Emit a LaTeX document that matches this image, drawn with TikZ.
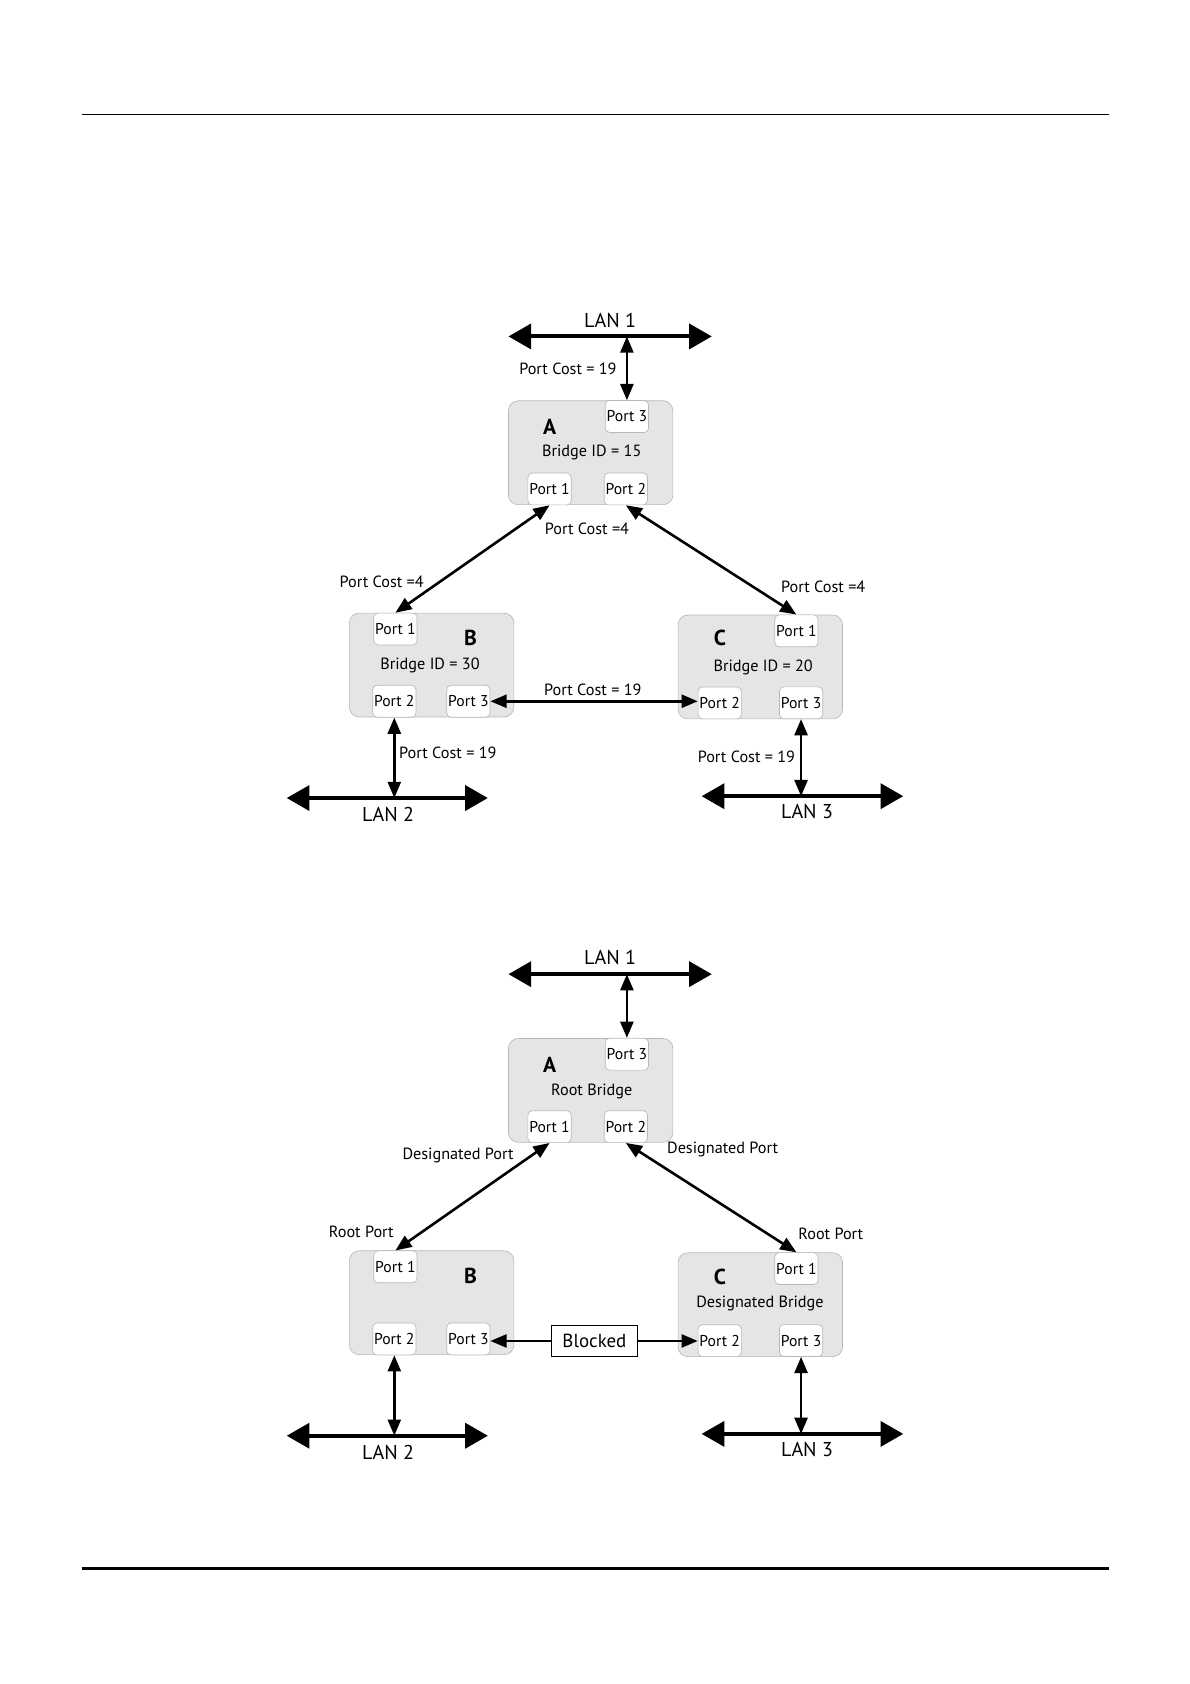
\documentclass[tikz,border=0pt]{standalone}
\usepackage{fontspec}
\setmainfont{PT Sans}
\usetikzlibrary{arrows.meta}
\begin{document}
\begin{tikzpicture}[x=1pt,y=-1pt,
  bridge/.style={draw=black!28, fill=black!10, rounded corners=9pt, line width=0.6pt, minimum width=152pt, minimum height=96pt, inner sep=0pt},
  portbox/.style={draw=black!28, fill=white, rounded corners=4pt, line width=0.6pt, minimum width=40pt, minimum height=29.5pt, inner sep=0pt, font=\fontsize{14.5}{16}\selectfont},
  lbl/.style={inner sep=0pt, font=\fontsize{15}{17}\selectfont},
  lanlbl/.style={inner sep=0pt, font=\fontsize{18.5}{20}\selectfont},
  letter/.style={inner sep=0pt, font=\fontsize{20}{22}\selectfont\bfseries},
  lan/.style={line width=3.7pt, {Triangle[length=21pt,width=23pt]}-{Triangle[length=21pt,width=23pt]}},
  conn/.style={line width=2.4pt, {Triangle[length=15pt,width=12pt]}-{Triangle[length=15pt,width=12pt]}},
  conne/.style={line width=2.4pt, -{Triangle[length=15pt,width=12pt]}},
  blk/.style={draw=black, line width=0.8pt, minimum width=79pt, minimum height=28.5pt, inner sep=0pt, font=\fontsize{17.5}{19}\selectfont}
]
\useasboundingbox (0,0) rectangle (1100,1556.7);
% page rules
\coordinate (r1a) at (75.8,105.7); \coordinate (r1b) at (1025,105.7);
\coordinate (r2a) at (75.8,1449.8); \coordinate (r2b) at (1025,1449.8);
\draw[line width=1.2pt] (r1a) -- (r1b);
\draw[line width=2.5pt] (r2a) -- (r2b);

% ================= Diagram 1 =================
\node[bridge] (A) at (546,418.5) {};
\node[portbox] (A3) at (579.5,385) {Port 3};
\node[portbox] (A1) at (508,452) {Port 1};
\node[portbox] (A2) at (578.5,452) {Port 2};
\node[letter] (Al) at (508,395) {A};
\node[lbl] (Aid) at (547,418) {Bridge ID = 15};

\node[bridge] (B) at (399,614.75) {};
\node[portbox] (B1) at (365.5,581.5) {Port 1};
\node[portbox] (B2) at (364.5,648.25) {Port 2};
\node[portbox] (B3) at (433,648.25) {Port 3};
\node[letter] (Bl) at (435,590) {B};
\node[lbl] (Bid) at (397.5,614.7) {Bridge ID = 30};

\node[bridge] (C) at (702.85,616.55) {};
\node[portbox] (C1) at (736.2,583.15) {Port 1};
\node[portbox] (C2) at (665.3,649.8) {Port 2};
\node[portbox] (C3) at (740.5,649.7) {Port 3};
\node[letter] (Cl) at (665.6,589.7) {C};
\node[lbl] (Cid) at (705.5,617.2) {Bridge ID = 20};

\coordinate (L1w) at (470,311); \coordinate (L1e) at (658,311);
\coordinate (L2w) at (265,737.7); \coordinate (L2e) at (451,737.7);
\coordinate (L3w) at (648.6,736); \coordinate (L3e) at (835,736);
\draw[lan] (L1w) -- (L1e);
\draw[lan] (L2w) -- (L2e);
\draw[lan] (L3w) -- (L3e);
\node[lanlbl] (L1t) at (564,296) {LAN 1};
\node[lanlbl] (L2t) at (358.7,753) {LAN 2};
\node[lanlbl] (L3t) at (746,750.5) {LAN 3};

\draw[conn] (A3.north) -- (A3.north |- L1w);
\draw[conn] (A1.south) -- (B1.north);
\draw[conn] (A2.south) -- (C1.north);
\draw[conn] (B3.east) -- (B3.east -| C2.west);
\draw[conn] (B2.south) -- (B2.south |- L2w);
\draw[conn] (C3.south) -- (C3.south |- L3w);

\node[lbl] (pc1) at (525,341) {Port Cost = 19};
\node[lbl] (pc2) at (542.6,489) {Port Cost =4};
\node[lbl] (pc3) at (352.8,537.7) {Port Cost =4};
\node[lbl] (pc4) at (761,542.6) {Port Cost =4};
\node[lbl] (pc5) at (548,638) {Port Cost = 19};
\node[lbl] (pc6) at (414,696) {Port Cost = 19};
\node[lbl] (pc7) at (690,699.5) {Port Cost = 19};

% ================= Diagram 2 =================
\node[bridge] (AA) at (546,1008) {};
\node[portbox] (AA3) at (579.5,974.5) {Port 3};
\node[portbox] (AA1) at (508,1041.5) {Port 1};
\node[portbox] (AA2) at (578.5,1041.5) {Port 2};
\node[letter] (AAl) at (508,984.5) {A};
\node[lbl] (AAid) at (547,1009) {Root Bridge};

\node[bridge] (BB) at (399,1204.25) {};
\node[portbox] (BB1) at (365.5,1171) {Port 1};
\node[portbox] (BB2) at (364.5,1237.75) {Port 2};
\node[portbox] (BB3) at (433,1237.75) {Port 3};
\node[letter] (BBl) at (435,1179.5) {B};

\node[bridge] (CC) at (702.85,1206.05) {};
\node[portbox] (CC1) at (736.2,1172.65) {Port 1};
\node[portbox] (CC2) at (665.3,1239.3) {Port 2};
\node[portbox] (CC3) at (740.5,1239.2) {Port 3};
\node[letter] (CCl) at (665.6,1180) {C};
\node[lbl] (CCid) at (702.5,1204.6) {Designated Bridge};

\coordinate (M1w) at (470,900.5); \coordinate (M1e) at (658,900.5);
\coordinate (M2w) at (265,1327.2); \coordinate (M2e) at (451,1327.2);
\coordinate (M3w) at (648.6,1325.5); \coordinate (M3e) at (835,1325.5);
\draw[lan] (M1w) -- (M1e);
\draw[lan] (M2w) -- (M2e);
\draw[lan] (M3w) -- (M3e);
\node[lanlbl] (M1t) at (564,885.5) {LAN 1};
\node[lanlbl] (M2t) at (358.7,1342.5) {LAN 2};
\node[lanlbl] (M3t) at (746,1340) {LAN 3};

\node[blk] (Blk) at (549.5,1239.6) {Blocked};

\draw[conn] (AA3.north) -- (AA3.north |- M1w);
\draw[conn] (AA1.south) -- (BB1.north);
\draw[conn] (AA2.south) -- (CC1.north);
\draw[conne] (Blk.west) -- (Blk.west -| BB3.east);
\draw[conne] (Blk.east) -- (Blk.east -| CC2.west);
\draw[conn] (BB2.south) -- (BB2.south |- M2w);
\draw[conn] (CC3.south) -- (CC3.south |- M3w);

\node[lbl] (dp1) at (423.4,1067.7) {Designated Port};
\node[lbl] (dp2) at (668,1063) {Designated Port};
\node[lbl] (rp1) at (334,1139) {Root Port};
\node[lbl] (rp2) at (768,1140.7) {Root Port};
\end{tikzpicture}
\end{document}
